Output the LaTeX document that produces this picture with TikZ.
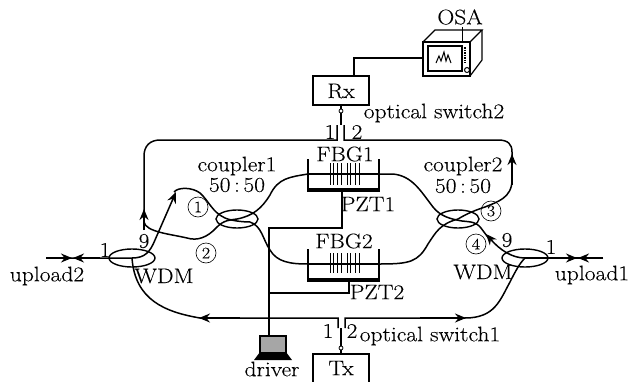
\documentclass[tikz,border=0pt]{standalone}
\usepackage{fontspec}
\setmainfont{Latin Modern Roman}[FakeStretch=1.12,FakeBold=0.15]
\usetikzlibrary{arrows.meta,shapes.geometric}
\tikzset{
  lbl/.style={inner sep=0pt,font=\fontsize{21}{23}\selectfont},
  num/.style={circle,draw,line width=.6pt,inner sep=0pt,minimum size=20pt,font=\fontsize{16}{16}\selectfont},
  fibre/.style={line width=1.5pt},
  wire/.style={line width=1.2pt},
  coup/.style={ellipse,draw,line width=1.4pt,minimum width=42pt,minimum height=18pt,inner sep=0pt},
  wdm/.style={ellipse,draw,line width=1.4pt,minimum width=46pt,minimum height=18pt,inner sep=0pt},
  flow/.style={-{Stealth[length=11pt,width=9pt]}},
  boxx/.style={draw,line width=1.2pt,inner sep=0pt},
  thickbase/.style={line width=4pt},
  grat/.style={line width=1pt},
  pin/.style={circle,draw,line width=.8pt,fill=white,inner sep=0pt,minimum size=4pt}
}
\begin{document}
\begin{tikzpicture}[x=1pt,y=-1pt]
\useasboundingbox (0,0) rectangle (630,381);
% ---- anchors
\node[coup] (c1) at (237,219) {};
\node[coup] (c2) at (458,219) {};
\node[wdm] (w1) at (132,258) {};
\node[wdm] (w2) at (525,258) {};
\coordinate (u2a) at (46,258);
\coordinate (u1a) at (603,258);
% ---- boxes
\node[boxx,minimum width=56pt,minimum height=29pt] (rx) at (341,90.5) {};
\node[lbl] at (341,91) {Rx};
\node[boxx,minimum width=56pt,minimum height=30pt] (tx) at (341,369) {};
\node[lbl] at (341,368) {Tx};
\node[pin] (prx) at (341,111) {};
\node[pin] (ptx) at (341,348) {};
% switches
\coordinate (s2p) at (341,125);
\coordinate (s2l) at (337,125);
\coordinate (s2r) at (344,125);
\coordinate (s1p) at (341,328);
\coordinate (s1l) at (338,328);
\coordinate (s1r) at (345,328);
\draw[wire] (rx.south) -- (prx) -- (s2p);
\draw[wire] (tx.north) -- (ptx) -- (s1p);
% ---- top loop
\draw[fibre] (s2l) -- (337,140) -- (160,140) .. controls (150,140) and (144,146) .. (144,156) -- (144,222)
  .. controls (146,232) and (170,234) .. (187,238) .. controls (197,241) and (207,238) .. (217,227)
  .. controls (224,220) and (230,220) .. (c1.center) .. controls (253,216) and (262,208) .. (270,195)
  .. controls (278,178) and (290,177) .. (308,174);
\draw[fibre,flow] (144,230) -- (144,209);
\draw[fibre] (s2r) -- (344,140) -- (498,140) .. controls (508,140) and (512,144) .. (512,152) -- (512,180)
  .. controls (512,198) and (497,202) .. (485,207) .. controls (470,212) and (465,215) .. (c2.center)
  .. controls (440,224) and (436,232) .. (428,244) .. controls (418,262) and (410,264) .. (379,264);
\draw[fibre,flow] (512,185) -- (512,154);
% ---- WDM1 strand
\draw[fibre] (u2a) -- (w1.center) .. controls (145,258) and (150,252) .. (155,240);
\draw[fibre,flow] (155,240) -- (176,192);
\draw[fibre] (174,192) .. controls (178,187) and (192,187) .. (200,193) .. controls (209,201) and (212,212) .. (225,218)
  .. controls (232,221) and (244,222) .. (250,222) .. controls (262,226) and (263,240) .. (270,250)
  .. controls (277,262) and (290,264) .. (308,264);
% ---- WDM2 strand
\draw[fibre] (379,174) -- (393,174) .. controls (412,176) and (420,190) .. (433,207)
  .. controls (440,216) and (450,219) .. (462,221) .. controls (472,222) and (476,222) .. (481,228) -- (490,240);
\draw[fibre,flow] (w2.center) .. controls (512,258) and (500,250) .. (486,234);
\draw[fibre] (u1a) -- (w2.center);
% ---- lower loop
\draw[fibre] (s1l) -- (338,318) -- (200,318) .. controls (165,312) and (135,300) .. (w1.center);
\draw[fibre,flow] (240,318) -- (199,318);
\draw[fibre] (s1r) -- (345,318) -- (465,318) .. controls (495,318) and (500,300) .. (510,282) .. controls (516,270) and (520,263) .. (w2.center);
\draw[fibre,flow] (420,318) -- (466,318);
% ---- upload arrows
\draw[fibre,flow] (u2a) -- (72,258);
\draw[fibre,flow] (100,258) -- (73,258);
\draw[fibre,flow] (545,258) -- (577,258);
\draw[fibre,flow] (u1a) -- (578,258);
% ---- FBG holders
\draw[line width=1.8pt] (308,159) -- (308,189);
\draw[line width=1.8pt] (379,159) -- (379,189);
\draw[thickbase] (307,189.5) -- (380,189.5);
\draw[line width=1.8pt] (308,249) -- (308,279);
\draw[line width=1.8pt] (379,249) -- (379,279);
\draw[thickbase] (307,280) -- (380,280);
\draw[fibre] (308,174) -- (379,174);
\draw[fibre] (308,264) -- (379,264);
\foreach \x in {330,333.5,337,341,347,350.5,355,359}{
  \draw[grat] (\x,163) -- (\x,185);
  \draw[grat] (\x,253) -- (\x,273);
}
% ---- PZT wires
\coordinate (lap) at (269,336);
\draw[wire] (342,191) -- (342,228) -- (269,228) -- (lap);
\draw[wire] (349,282) -- (349,293) -- (269,293);
% ---- laptop
\draw[line width=1.8pt,fill=black!35] (260,336) rectangle (286,353);
\fill (260,352) -- (286,352) -- (292,360) -- (254,360) -- cycle;
% ---- OSA
\draw[line width=1.2pt] (423,42) -- (435,30) -- (482,30) -- (470,42);
\draw[line width=1.2pt] (482,30) -- (482,60) -- (470,76);
\node[boxx,line width=1.4pt,minimum width=47pt,minimum height=34pt] (osa) at (446.5,59) {};
\draw[line width=1.2pt] (428,46) rectangle (462,71);
\draw[line width=1.6pt,dash pattern=on 1.5pt off 1pt] (465,47) -- (465,63);
\draw[line width=1pt] (467,70) circle (2.5pt);
\draw[line width=1pt] (436,63) -- (439,56) -- (441,61) -- (444,52) -- (446,61) -- (448,55) -- (451,63);
\draw[wire] (rx.north -| 354,0) -- (354,58) -- (osa.west |- 0,58);
\draw[line width=.8pt] (462,27) -- (462,42);
% ---- labels
\node[lbl] at (460,17) {OSA};
\node[lbl] at (434,113) {optical switch2};
\node[lbl] at (330,132) {1};
\node[lbl] at (357,132) {2};
\node[lbl] at (345,154) {FBG1};
\node[lbl] at (237,166) {coupler1};
\node[lbl] at (237,185) {50\,:\,50};
\node[lbl] at (463,166) {coupler2};
\node[lbl] at (463,186) {50\,:\,50};
\node[lbl] at (368,204) {PZT1};
\node[lbl] at (344,241) {FBG2};
\node[lbl] at (377,292) {PZT2};
\node[lbl] at (47,276) {upload2};
\node[lbl] at (592,275) {upload1};
\node[lbl] at (164,276) {WDM};
\node[lbl] at (483,272) {WDM};
\node[lbl] at (105,250) {1};
\node[lbl] at (144,241) {9};
\node[lbl] at (507,240) {9};
\node[lbl] at (551,247) {1};
\node[lbl] at (328,331) {1};
\node[lbl] at (352,331) {2};
\node[lbl] at (430,336) {optical switch1};
\node[lbl] at (272,369) {driver};
\node[num] at (198,207) {1};
\node[num] at (206,253) {2};
\node[num] at (491,211) {3};
\node[num] at (476,244) {4};
\end{tikzpicture}
\end{document}
